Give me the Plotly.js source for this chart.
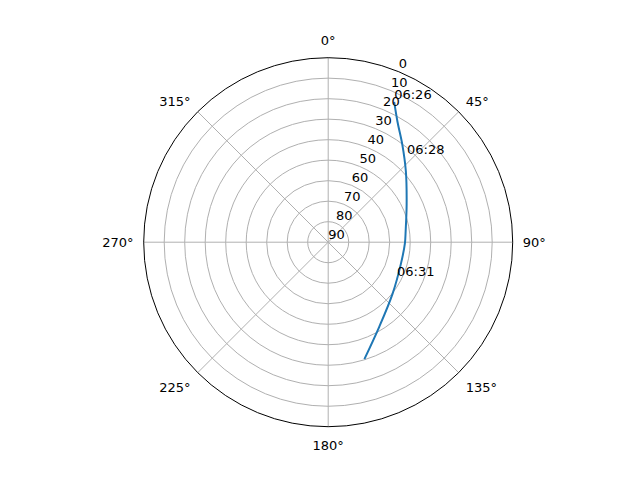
<!DOCTYPE html>
<html>
<head>
<meta charset="utf-8">
<script src="https://cdn.plot.ly/plotly-3.0.1.min.js"></script>
<style>
  html, body { margin: 0; padding: 0; background: #fff; }
  #skyplot { width: 640px; height: 480px; }
</style>
</head>
<body>
<div id="skyplot"></div>
<script>
// pass track: azimuth (deg) and elevation (deg)
const azimuth = [25.2, 29.9, 37.3, 47.6, 64.2, 81.6, 91.1, 106.6, 128.6, 148.9, 162.8];
const elevation = [14.4, 22.2, 30.3, 38.7, 47.5, 51.8, 52.6, 53.0, 49.8, 41.8, 30.3];

// time stamps along the pass
const timeLabels = ['06:26', '06:28', '06:31'];
const labelAz = [25.2, 42.9, 118.4];
const labelEl = [14.4, 33.5, 51.8];

const angleTicks = [0, 45, 90, 135, 180, 225, 270, 315];
const radialTicks = [0, 10, 20, 30, 40, 50, 60, 70, 80, 90];
const radialLabelAngle = 22.5;

const fontFamily = 'DejaVu Sans, sans-serif';
const cx = 328.2, cy = 242.2, R = 184.5;

var track = {
    type: 'scatterpolar',
    mode: 'lines',
    theta: azimuth,
    r: elevation,
    line: { color: '#1f77b4', width: 2, shape: 'spline' },
    hoverinfo: 'skip'
};

var stamps = {
    type: 'scatterpolar',
    mode: 'text',
    theta: labelAz,
    r: labelEl,
    text: timeLabels,
    textposition: 'top right',
    textfont: { family: fontFamily, size: 13, color: '#000' },
    hoverinfo: 'skip'
};

// radial tick labels drawn like matplotlib's (horizontal, along 22.5°)
var rlabels = {
    type: 'scatterpolar',
    mode: 'text',
    theta: radialTicks.map(() => radialLabelAngle),
    r: radialTicks,
    text: radialTicks.map(String),
    textposition: 'top right',
    cliponaxis: false,
    textfont: { family: fontFamily, size: 13, color: '#000' },
    hoverinfo: 'skip'
};

var layout = {
    width: 640,
    height: 480,
    showlegend: false,
    paper_bgcolor: '#fff',
    margin: { l: 0, r: 0, t: 0, b: 0 },
    font: { family: fontFamily, size: 13, color: '#000' },
    polar: {
        domain: { x: [(cx - R) / 640, (cx + R) / 640], y: [(480 - cy - R) / 480, (480 - cy + R) / 480] },
        bgcolor: '#fff',
        angularaxis: {
            rotation: 90,
            direction: 'clockwise',
            tickmode: 'array',
            tickvals: angleTicks,
            ticktext: angleTicks.map(a => a + '°'),
            ticks: 'outside',
            ticklen: 7,
            tickcolor: 'rgba(0,0,0,0)',
            showline: true,
            linecolor: '#000',
            linewidth: 1,
            gridcolor: '#b0b0b0',
            gridwidth: 1,
            tickfont: { family: fontFamily, size: 13, color: '#000' }
        },
        radialaxis: {
            range: [90, 0],
            angle: 67.5,
            tickmode: 'array',
            tickvals: radialTicks,
            ticks: '',
            showticklabels: false,
            showline: false,
            gridcolor: '#b0b0b0',
            gridwidth: 1
        }
    }
};

Plotly.newPlot('skyplot', [track, stamps, rlabels], layout, { staticPlot: true });
</script>
</body>
</html>
